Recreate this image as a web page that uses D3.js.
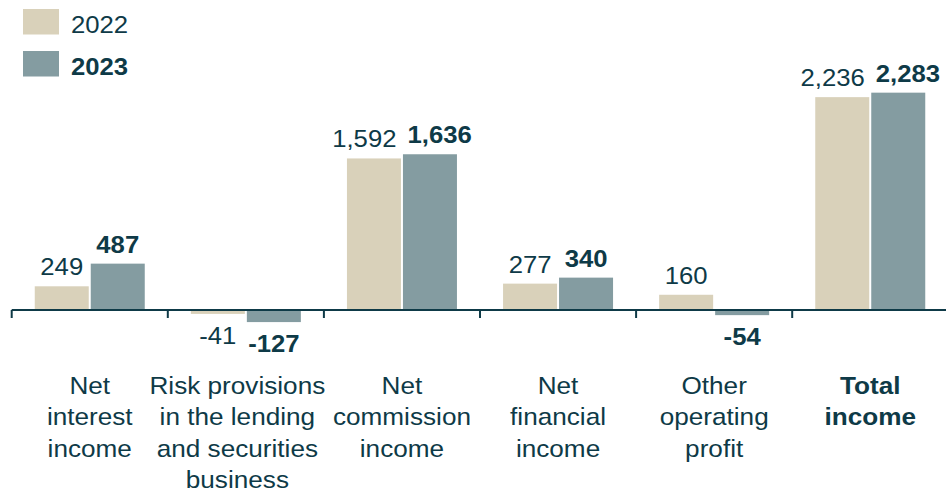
<!DOCTYPE html>
<html>
<head>
<meta charset="utf-8">
<script src="https://cdn.jsdelivr.net/npm/d3@7"></script>
<style>
  html, body { margin: 0; padding: 0; background: #fff; }
  svg { display: block; font-family: "Liberation Sans", Arial, sans-serif; }
</style>
</head>
<body>
<svg id="chart" width="946" height="494"></svg>
<script>
// Income statement components, EUR m
const categories = [
  ["Net", "interest", "income"],
  ["Risk provisions", "in the lending", "and securities", "business"],
  ["Net", "commission", "income"],
  ["Net", "financial", "income"],
  ["Other", "operating", "profit"],
  ["Total", "income"]
];
const boldCategory = [false, false, false, false, false, true];
const years = ["2022", "2023"];
const values2022 = [249, -41, 1592, 277, 160, 2236];
const values2023 = [487, -127, 1636, 340, -54, 2283];

const colors = { "2022": "#d9d1ba", "2023": "#849ca1" };
const ink = "#0e3a47";
const stretchNum = 1.07;   // slightly wide type
const stretchCat = 1.09;
// the long risk-provisions label sits a little left of its slot
const catNudge = [0, -8.5, 0, 0, 0, 0];

const svg = d3.select("#chart");
const W = 946;

const x = d3.scaleBand()
  .domain(d3.range(categories.length))
  .range([11.7, 11.7 + 6 * 156.1])
  .paddingInner(0).paddingOuter(0);

const barW = 54, gap = 2;
const sub = d3.scaleOrdinal().domain(years).range([-gap / 2 - barW, gap / 2]);

const y = d3.scaleLinear().domain([0, 2500]).range([310, 72]);

const fmt = d3.format(",");

const rows = [];
categories.forEach((c, i) => {
  rows.push({ i, year: "2022", v: values2022[i] });
  rows.push({ i, year: "2023", v: values2023[i] });
});
const barCx = d => x(d.i) + x.bandwidth() / 2 + sub(d.year) + barW / 2;

// bars
svg.append("g").selectAll("rect")
  .data(rows)
  .join("rect")
  .attr("x", d => x(d.i) + x.bandwidth() / 2 + sub(d.year))
  .attr("width", barW)
  .attr("y", d => y(Math.max(0, d.v)))
  .attr("height", d => Math.abs(y(d.v) - y(0)))
  .attr("fill", d => colors[d.year]);

// value labels
const labels = svg.append("g").selectAll("g")
  .data(rows)
  .join("g");
labels.append("text")
  .attr("text-anchor", "middle")
  .attr("font-size", 24)
  .attr("font-weight", d => d.year === "2023" ? "bold" : "normal")
  .attr("fill", ink)
  .text(d => fmt(d.v).replace("−", "-"));
labels.each(function (d) {
  d.w = this.querySelector("text").getComputedTextLength() * stretchNum;
  d.cx = barCx(d);
  d.ly = d.v >= 0 ? y(d.v) - 11 : y(d.v) + 30;
});
// push paired labels apart where they would collide at the same height
const minGap = 11;
for (let i = 0; i < categories.length; i++) {
  const a = rows[2 * i], b = rows[2 * i + 1];
  if (Math.abs(a.ly - b.ly) < 24) {
    const space = (b.cx - b.w / 2) - (a.cx + a.w / 2);
    if (space < minGap) {
      const s = (minGap - space) / 2;
      a.cx -= s; b.cx += s;
    }
  }
}
labels.attr("transform", d => `translate(${d.cx},${d.ly}) scale(${stretchNum},1)`);

// baseline axis with ticks between categories
const gAxis = svg.append("g").attr("transform", `translate(0,${y(0)})`);
gAxis.append("line")
  .attr("x1", x.range()[0]).attr("x2", W)
  .attr("stroke", ink).attr("stroke-width", 2);
gAxis.selectAll("line.tick")
  .data(d3.range(categories.length))
  .join("line")
  .attr("class", "tick")
  .attr("x1", i => x(i)).attr("x2", i => x(i))
  .attr("y1", 0).attr("y2", 8)
  .attr("stroke", ink).attr("stroke-width", 2);

// category labels
const catG = svg.append("g").selectAll("g")
  .data(categories)
  .join("g")
  .attr("transform", (d, i) => `translate(${x(i) + x.bandwidth() / 2 + catNudge[i]},0) scale(${stretchCat},1)`);
catG.append("text")
  .attr("text-anchor", "middle")
  .attr("font-size", 24)
  .attr("font-weight", (d, i) => boldCategory[i] ? "bold" : "normal")
  .attr("fill", ink)
  .selectAll("tspan")
  .data(d => d)
  .join("tspan")
  .attr("x", 0)
  .attr("y", (l, k) => 394 + k * 31.5)
  .text(l => l);

// legend
const legend = svg.append("g");
years.forEach((yr, k) => {
  const g = legend.append("g").attr("transform", `translate(23,${9 + k * 42})`);
  g.append("rect").attr("width", 36).attr("height", 25.5).attr("fill", colors[yr]);
  g.append("text")
    .attr("transform", `translate(48,24) scale(${stretchNum},1)`)
    .attr("font-size", 24)
    .attr("font-weight", k === 1 ? "bold" : "normal")
    .attr("fill", ink)
    .text(yr);
});
</script>
</body>
</html>
